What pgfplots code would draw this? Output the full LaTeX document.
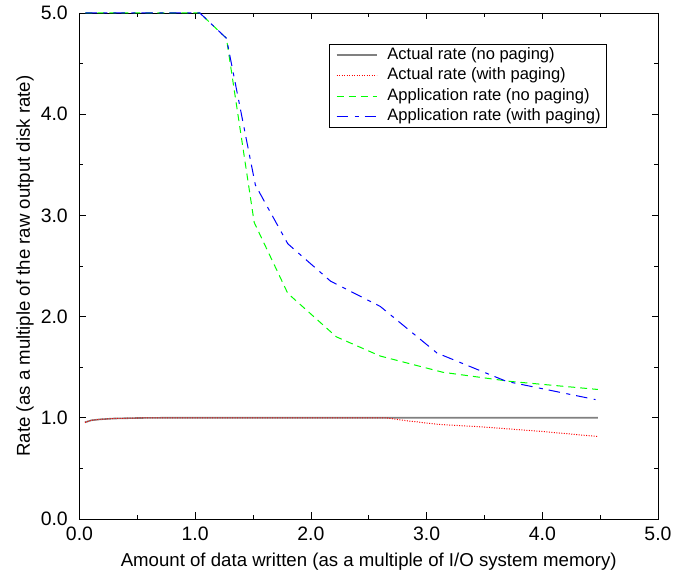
\documentclass[border=0pt]{standalone}
\usepackage{fontspec}
\setmainfont{Liberation Sans}
\usepackage{pgfplots}
\pgfplotsset{compat=1.18}

\definecolor{linegray}{RGB}{128,128,128}

\begin{document}
\begin{tikzpicture}
\begin{axis}[
    scale only axis,
    width=578.5bp,
    height=506bp,
    xmin=0, xmax=5,
    ymin=0, ymax=5,
    xtick={0,1,...,5},
    ytick={0,1,...,5},
    minor tick num=1,
    tick align=inside,
    major tick length=6.5bp,
    minor tick length=4bp,
    axis line style={line width=0.8bp},
    every tick/.style={black, line width=0.8bp},
    /pgf/number format/fixed,
    /pgf/number format/fixed zerofill,
    /pgf/number format/precision=1,
    /pgf/number format/assume math mode=true,
    tick label style={font=\fontsize{19.5}{22}\selectfont, inner sep=0pt},
    xticklabel shift=8bp,
    yticklabel shift=11.5bp,
    xlabel={Amount of data written (as a multiple of I/O system memory)},
    ylabel={Rate (as a multiple of the raw output disk rate)},
    label style={font=\fontsize{18.7}{22}\selectfont, inner sep=0pt},
    xlabel style={at={(axis description cs:0.5,-0.0943)}, anchor=base},
    ylabel style={at={(axis description cs:-0.0856,0.5)}, anchor=base},
    legend cell align=left,
    legend style={at={(0.912,0.939)}, anchor=north east, draw=black,
        line width=0.8bp, font=\fontsize{16.6}{19}\selectfont,
        inner xsep=6bp, inner ysep=3bp, row sep=4.5bp,
        nodes={inner sep=0pt, text height=12bp, text depth=4bp},
        /tikz/every odd column/.append style={column sep=10bp}},
    legend image code/.code={\draw[#1] (0bp,0bp) -- (40bp,0bp);},
    ]
% actual rate, no paging
\addplot[linegray, line width=1.6bp] coordinates {
    (0.047,0.955) (0.10,0.975) (0.18,0.985) (0.30,0.993) (0.50,0.998)
    (0.70,1.0) (2.65,1.0) (4.48,1.0)};
% actual rate, with paging
\addplot[red, line width=1bp, dash pattern=on 1bp off 1.5bp] coordinates {
    (0.047,0.955) (0.10,0.975) (0.18,0.985) (0.30,0.993) (0.50,0.998)
    (0.70,1.0) (2.65,1.0) (2.80,0.975) (3.10,0.935) (3.48,0.91)
    (4.00,0.865) (4.48,0.815)};
% application rate, no paging
\addplot[green, line width=1bp, dash pattern=on 7bp off 5bp] coordinates {
    (0.05,5.0) (1.04,5.0) (1.27,4.75) (1.51,2.93) (1.80,2.23)
    (2.22,1.80) (2.60,1.61) (3.14,1.45) (3.72,1.36) (4.48,1.28)};
% application rate, with paging
\addplot[blue, line width=1bp, dash pattern=on 11.5bp off 6.5bp on 4bp off 6bp] coordinates {
    (0.05,5.0) (1.04,5.0) (1.27,4.75) (1.52,3.30) (1.80,2.72)
    (2.17,2.35) (2.60,2.10) (3.09,1.64) (3.69,1.36) (4.46,1.18)};
\legend{Actual rate (no paging), Actual rate (with paging),
    Application rate (no paging), Application rate (with paging)}
\end{axis}
\path (-79.5bp,-54bp) rectangle (594.5bp,519bp);
\end{tikzpicture}
\end{document}
